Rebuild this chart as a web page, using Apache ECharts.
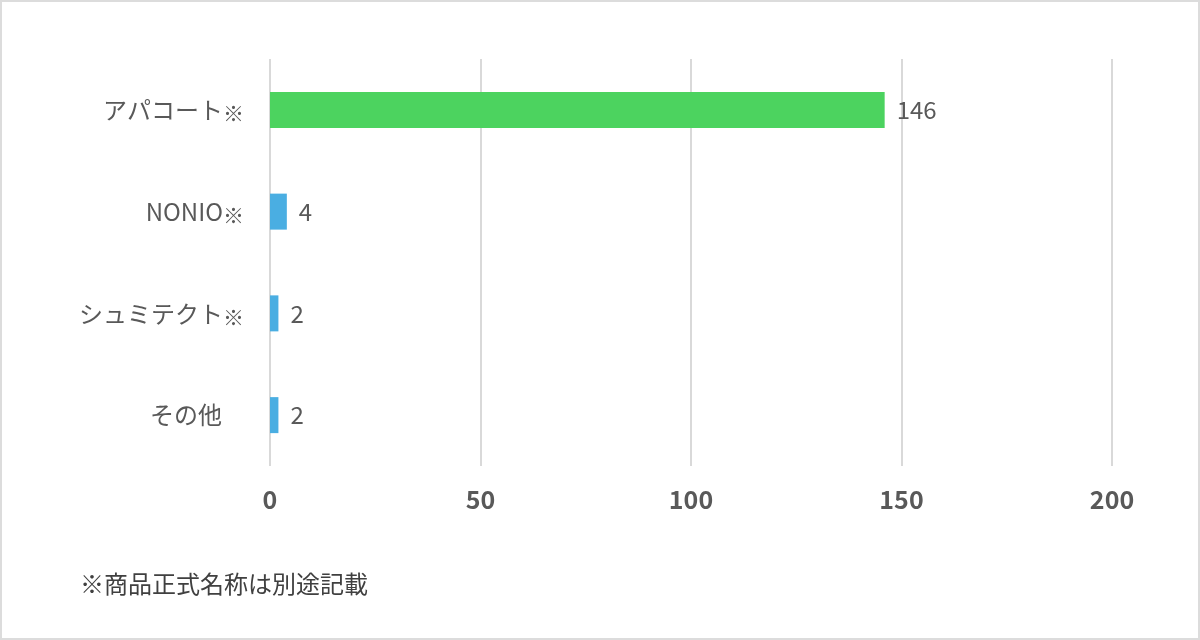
<!DOCTYPE html>
<html>
<head>
<meta charset="utf-8">
<script src="https://cdn.jsdelivr.net/npm/echarts@6/dist/echarts.min.js"></script>
<style>
html,body{margin:0;padding:0;background:#fff;}
#frame{position:absolute;left:0;top:0;width:1196px;height:636px;border:2px solid #dcdcdc;}
#c{width:1196px;height:636px;}
</style>
</head>
<body>
<div id="frame"><div id="c"></div></div>
<script>
const categories = ['アパコート※', 'NONIO※', 'シュミテクト※', 'その他'];
const values = [146, 4, 2, 2];
const barColors = ['#4cd35f', '#4aaee2', '#4aaee2', '#4aaee2'];
const xTicks = [0, 50, 100, 150, 200];
const footnote = '※商品正式名称は別途記載';

const chart = echarts.init(document.getElementById('c'));
chart.setOption({
  animation: false,
  grid: {left: 268, right: 86, top: 57, bottom: 172},
  xAxis: {
    type: 'value', min: xTicks[0], max: xTicks[xTicks.length - 1], interval: 50,
    axisLine: {show: false}, axisTick: {show: false},
    splitLine: {lineStyle: {color: '#d9d9d9', width: 2}},
    axisLabel: {color: '#595959', fontSize: 25, fontWeight: 'bold', margin: 21,
      fontFamily: 'Noto Sans CJK JP'}
  },
  yAxis: {
    type: 'category', data: categories, inverse: true,
    axisLine: {show: false}, axisTick: {show: false},
    axisLabel: {
      margin: 26, color: '#595959', fontSize: 24, fontFamily: 'Noto Sans CJK JP',
      formatter: function (v) {
        if (v.endsWith('※')) return '{a|' + v.slice(0, -1) + '}{b|※}';
        return '{a|' + v + '}{p|}';
      },
      rich: {
        a: {fontSize: 24, color: '#595959', fontFamily: 'Noto Sans CJK JP'},
        b: {fontSize: 21, color: '#595959', fontFamily: 'Noto Sans CJK JP', padding: [7, 0, 0, 0]},
        p: {width: 22}
      }
    }
  },
  series: [{
    type: 'bar', barWidth: 36,
    data: values.map((v, i) => ({value: v, itemStyle: {color: barColors[i]}})),
    label: {show: true, position: 'right', distance: 12, color: '#595959',
      fontSize: 24, fontFamily: 'Noto Sans CJK JP'}
  }],
  graphic: [{
    type: 'text', left: 78, top: 570,
    style: {text: footnote, fill: '#404040', fontSize: 24, fontFamily: 'Noto Sans CJK JP'}
  }]
});
</script>
</body>
</html>
